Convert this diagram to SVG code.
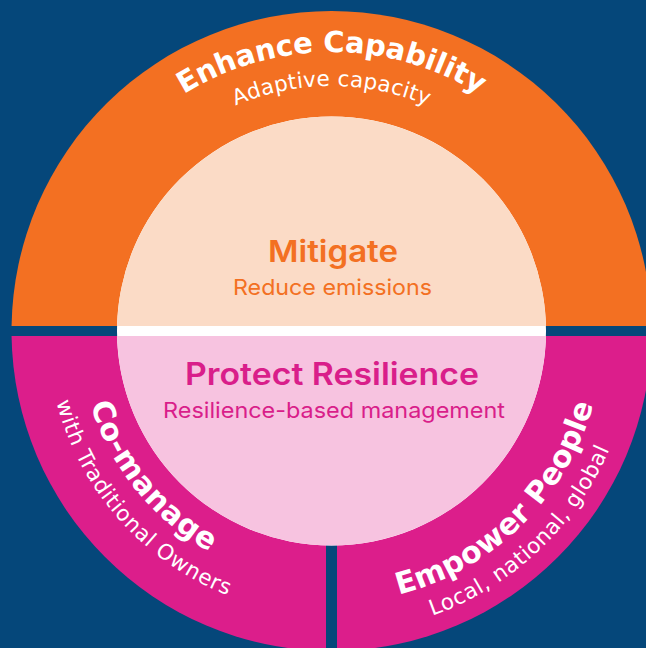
<svg xmlns="http://www.w3.org/2000/svg" width="646" height="648" viewBox="0 0 646 648">
<style>
.h{font-family:"DejaVu Sans",Inter,sans-serif;font-weight:700;fill:#fff}
.s{font-family:"DejaVu Sans",Inter,sans-serif;font-weight:400;fill:#fff}
.ch{font-family:Inter,"Open Sans","Liberation Sans",sans-serif;font-weight:600;text-anchor:middle}
.cs{font-family:Inter,"Open Sans","Liberation Sans",sans-serif;font-weight:400;text-anchor:middle}
.or{fill:#f37022}
.mg{fill:#dc1e8b}
</style>
<defs>
<path id="pEnh" d="M 52.5 331 A 279 279 0 0 1 610.5 331"/>
<path id="pAda" d="M 86.5 331 A 245 245 0 0 1 576.5 331"/>
<path id="pCo" d="M 141.3 165.7 A 252 252 0 0 0 453.7 551.4"/>
<path id="pWith" d="M 109.2 154.2 A 284 284 0 0 0 479.9 573.1"/>
<path id="pEmp" d="M 172.8 551.9 A 272 272 0 0 0 556.2 177.7"/>
<path id="pLoc" d="M 150.6 572.8 A 302 302 0 0 0 584.2 165.6"/>
</defs>
<rect width="646" height="648" fill="#05477a"/>
<g id="enhance-capability">
<path class="or" d="M 11.54 326 A 320 320 0 0 1 651.46 326 Z"/>
<text class="h" font-size="29"><textPath href="#pEnh" startOffset="50%" text-anchor="middle" textLength="311" lengthAdjust="spacing">Enhance Capability</textPath></text>
<text class="s" font-size="21.5"><textPath href="#pAda" startOffset="50%" text-anchor="middle" textLength="197" lengthAdjust="spacing">Adaptive capacity</textPath></text>
</g>
<g id="co-manage">
<path class="mg" d="M 11.54 336 L 326 336 L 326 650.95 A 320 320 0 0 1 11.54 336 Z"/>
<text class="h" font-size="30"><textPath href="#pCo" startOffset="50%" text-anchor="middle" textLength="194" lengthAdjust="spacing">Co-manage</textPath></text>
<text class="s" font-size="21.5"><textPath href="#pWith" startOffset="50%" text-anchor="middle" textLength="268" lengthAdjust="spacing">with Traditional Owners</textPath></text>
</g>
<g id="empower-people">
<path class="mg" d="M 337 336 L 651.46 336 A 320 320 0 0 1 337 650.95 Z"/>
<text class="h" font-size="30"><textPath href="#pEmp" startOffset="50%" text-anchor="middle" textLength="285" lengthAdjust="spacing">Empower People</textPath></text>
<text class="s" font-size="21.5"><textPath href="#pLoc" startOffset="50%" text-anchor="middle" textLength="250" lengthAdjust="spacing">Local, national, global</textPath></text>
</g>
<circle cx="331.5" cy="331" r="214.5" fill="#ffffff"/>
<g id="mitigate">
<path fill="#fbdbc6" d="M 117.06 326 A 214.5 214.5 0 0 1 545.94 326 Z"/>
<text class="ch" x="333" y="262" font-size="30" fill="#f37022" textLength="130" lengthAdjust="spacingAndGlyphs">Mitigate</text>
<text class="cs" x="332.5" y="295" font-size="22" fill="#f37022" textLength="199" lengthAdjust="spacingAndGlyphs">Reduce emissions</text>
</g>
<g id="protect-resilience">
<path fill="#f7c3e0" d="M 117.06 336 A 214.5 214.5 0 0 0 545.94 336 Z"/>
<text class="ch" x="332" y="385" font-size="31" fill="#d91e8a" textLength="294" lengthAdjust="spacingAndGlyphs">Protect Resilience</text>
<text class="cs" x="334" y="418" font-size="22" fill="#d91e8a" textLength="342" lengthAdjust="spacingAndGlyphs">Resilience-based management</text>
</g>
</svg>
